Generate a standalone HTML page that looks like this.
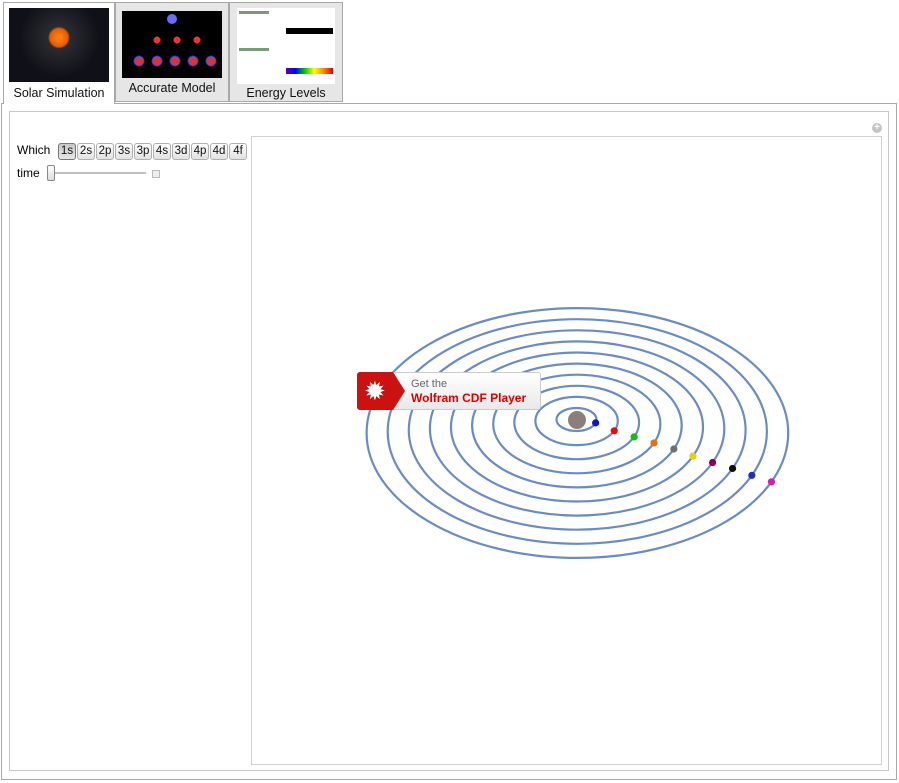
<!DOCTYPE html>
<html><head><meta charset="utf-8">
<style>
body{margin:0;width:899px;height:783px;background:#fff;font-family:"Liberation Sans","DejaVu Sans",sans-serif;position:relative;overflow:hidden}
.abs{position:absolute}
.tab{position:absolute;box-sizing:border-box;border:1px solid #a8a8a8;text-align:center;font-size:12.5px;color:#111}
.btn{display:inline-block;box-sizing:border-box;width:18px;height:17px;border:1px solid #b0b0b0;border-radius:3px;background:linear-gradient(#fdfdfd,#e2e2e2);font-size:11.5px;line-height:15px;padding:0;text-align:center;margin-right:1px;color:#111}
</style></head><body>
<div class="tab" style="left:3px;top:2px;width:112px;height:102px;background:#fff;border-bottom:none">
 <div style="position:absolute;left:5px;top:5px;width:100px;height:74px;background:radial-gradient(circle at 50% 40%,#ff8a1a 0,#e85a00 9px,#2a2a30 11px,#101018 60%);"></div>
 <div style="position:absolute;left:0;top:83px;width:110px">Solar Simulation</div>
</div>
<div class="tab" style="left:115px;top:2px;width:114px;height:100px;background:#e6e6e6">
 <div style="position:absolute;left:6px;top:8px;width:100px;height:67px;background:#000">
  <div style="position:absolute;left:45px;top:3px;width:10px;height:10px;border-radius:50%;background:#6b6bff"></div>
  <div style="position:absolute;left:25px;top:24px;width:60px;height:10px;background:radial-gradient(circle,#e33 30%,transparent 32%) 0 0/20px 10px"></div>
  <div style="position:absolute;left:8px;top:44px;width:88px;height:12px;background:radial-gradient(circle,#d33 35%,#55f 40%,transparent 55%) 0 0/18px 12px"></div>
 </div>
 <div style="position:absolute;left:0;top:78px;width:112px">Accurate Model</div>
</div>
<div class="tab" style="left:229px;top:2px;width:114px;height:100px;background:#e6e6e6">
 <div style="position:absolute;left:7px;top:5px;width:98px;height:76px;background:#fff">
  <div style="position:absolute;left:2px;top:3px;width:30px;height:3px;background:#7a9a7a"></div>
  <div style="position:absolute;left:49px;top:20px;width:47px;height:6px;background:#000"></div>
  <div style="position:absolute;left:2px;top:40px;width:30px;height:3px;background:#7a9a7a"></div>
  <div style="position:absolute;left:49px;top:60px;width:47px;height:6px;background:linear-gradient(90deg,#60a,#00f,#0c0,#ff0,#f80,#d00)"></div>
 </div>
 <div style="position:absolute;left:0;top:83px;width:112px">Energy Levels</div>
</div>
<div class="abs" style="left:1px;top:103px;width:894px;height:675px;border:1px solid #a8a8a8"></div>
<div class="abs" style="left:4px;top:102px;width:110px;height:3px;background:#fff"></div>
<div class="abs" style="left:9px;top:111px;width:878px;height:658px;border:1px solid #c8c8c8"></div>
<div class="abs" style="left:872px;top:123px;width:10px;height:10px;border-radius:50%;background:#c4c4c4;color:#fff;font-size:10px;line-height:10px;text-align:center;font-weight:bold">+</div>
<div class="abs" style="left:17px;top:143px;font-size:12px">Which</div>
<div class="abs" style="left:58px;top:143px;white-space:nowrap;font-size:0">
 <span class="btn" style="background:linear-gradient(#c8c8c8,#e6e6e6);border-color:#777">1s</span><span class="btn">2s</span><span class="btn">2p</span><span class="btn">3s</span><span class="btn">3p</span><span class="btn">4s</span><span class="btn">3d</span><span class="btn">4p</span><span class="btn">4d</span><span class="btn">4f</span>
</div>
<div class="abs" style="left:17px;top:166px;font-size:12px">time</div>
<div class="abs" style="left:50px;top:172px;width:96px;height:2px;background:#c0c0c0"></div>
<div class="abs" style="left:47px;top:165px;width:6px;height:14px;border:1px solid #888;border-radius:2px;background:linear-gradient(#fff,#ddd)"></div>
<div class="abs" style="left:152px;top:170px;width:6px;height:6px;border:1px solid #bbb;background:#eee"></div>
<div class="abs" style="left:251px;top:136px;width:629px;height:627px;border:1px solid #d0d0d0"></div>
<svg class="abs" id="plot" style="left:0;top:0" width="899" height="783"></svg>
<div class="abs" style="left:357px;top:372px;width:184px;height:38px;border:1px solid #ccc;border-radius:3px;background:linear-gradient(#fff,#e9e9e9);box-sizing:border-box">
 <div style="position:absolute;left:-1px;top:-1px;width:36px;height:38px;background:#cc1111;border-radius:3px 0 0 3px"></div>
 <div style="position:absolute;left:35px;top:-1px;width:0;height:0;border-top:19px solid transparent;border-bottom:19px solid transparent;border-left:12px solid #cc1111"></div>
 <div style="position:absolute;left:6px;top:2px;color:#fff;font-size:26px;line-height:32px">✹</div>
 <div style="position:absolute;left:53px;top:5px;font-size:11px;color:#666">Get the</div>
 <div style="position:absolute;left:53px;top:18px;font-size:12px;color:#d00;font-weight:bold">Wolfram CDF Player</div>
</div>
<script>
const orbitNumbers=[1,2,3,4,5,6,7,8,9,10];
const planetColors=["#1010d0","#e01010","#10c010","#e07010","#707070","#e8d010","#800060","#101010","#2030b0","#d020b0"];
const planetAngles=[17,24,23,22.6,22.3,23,23,22.7,23,23];
const svg=document.getElementById('plot');
const NS='http://www.w3.org/2000/svg';
function cx(n){return 576.5+(n-1)*0.1;}
function cy(n){return 419.5+(n-1)*1.5;}
function rx(n){return 20+(n-1)*21.2;}
function ry(n){return 11.5+(n-1)*12.6;}
orbitNumbers.forEach((n,i)=>{
 const e=document.createElementNS(NS,'ellipse');
 
 
 e.setAttribute('cx',cx(n));e.setAttribute('cy',cy(n));e.setAttribute('rx',rx(n));e.setAttribute('ry',ry(n));
 e.setAttribute('fill','none');e.setAttribute('stroke','#6a8cc4');e.setAttribute('stroke-width','2.2');
 svg.appendChild(e);
});
const nuc=document.createElementNS(NS,'circle');


nuc.setAttribute('cx',577);nuc.setAttribute('cy',420);nuc.setAttribute('r',9);nuc.setAttribute('fill','#8a7f7c');
svg.appendChild(nuc);
orbitNumbers.forEach((n,i)=>{
 const a=planetAngles[i]*Math.PI/180;
 const c=document.createElementNS(NS,'circle');
 
 
 c.setAttribute('cx',cx(n)+rx(n)*Math.cos(a));c.setAttribute('cy',cy(n)+ry(n)*Math.sin(a));
 c.setAttribute('r',3.6);c.setAttribute('fill',planetColors[i]);
 svg.appendChild(c);
});
</script>
</body></html>
